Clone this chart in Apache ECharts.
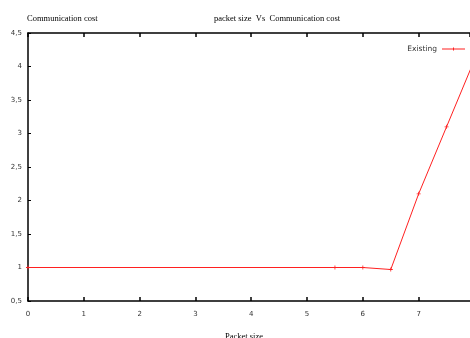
<!DOCTYPE html>
<html>
<head>
<meta charset="utf-8">
<script src="https://cdn.jsdelivr.net/npm/echarts@6/dist/echarts.min.js"></script>
<style>html,body{margin:0;padding:0;background:#fff}#c{width:470px;height:338px}</style>
</head>
<body>
<div id="c"></div>
<script>
const packetSize = [0, 5.5, 6, 6.5, 7, 7.5, 8];
const existing = [1, 1, 1, 0.97, 2.1, 3.1, 4.1];
const xTicks = [0, 1, 2, 3, 4, 5, 6, 7];
const yTicks = [0.5, 1, 1.5, 2, 2.5, 3, 3.5, 4, 4.5];

const plus = 'path://M0,2h5v1h-5z M2,0h1v5h-1z';
const chart = echarts.init(document.getElementById('c'), null, {renderer: 'canvas'});
const tickFont = {fontFamily: 'DejaVu Sans', fontSize: 7, color: '#333'};
const serif = {fontFamily: 'Liberation Serif', fontSize: 8.5, fontWeight: 'normal', color: '#000'};
chart.setOption({
  animation: false,
  backgroundColor: '#fff',
  title: [
    {text: 'packet size  Vs  Communication cost', left: 209, top: 9, textStyle: serif},
    {text: 'Communication cost', left: 22, top: 9, textStyle: serif},
    {text: 'Packet size', left: 220, top: 327, textStyle: serif}
  ],
  legend: {
    right: 0, top: 40, align: 'right', itemWidth: 23, itemHeight: 6, itemGap: 5,
    textStyle: {fontFamily: 'DejaVu Sans', fontSize: 7.5, color: '#333'},
    data: [{name: 'Existing', icon: 'path://M0,2h23v1h-23z M11,1h1v3h-1z'}]
  },
  grid: {left: 28, top: 33, right: 0, height: 268},
  xAxis: [
    {type: 'value', min: 0, max: 7.92, interval: 1, position: 'bottom',
     axisLine: {show: true, lineStyle: {color: '#000', width: 1.5}},
     axisTick: {show: true, inside: true, length: 4, lineStyle: {color: '#000', width: 1.5}},
     axisLabel: Object.assign({margin: 10, showMaxLabel: false, formatter: v => xTicks.includes(v) ? String(v) : ''}, tickFont),
     splitLine: {show: false}},
    {type: 'value', min: 0, max: 7.92, interval: 1, position: 'top',
     axisLine: {show: true, lineStyle: {color: '#000', width: 1.5}},
     axisTick: {show: true, inside: true, length: 4, lineStyle: {color: '#000', width: 1.5}},
     axisLabel: {show: false}, splitLine: {show: false}}
  ],
  yAxis: {
    type: 'value', min: 0.5, max: 4.5, interval: 0.5,
    axisLine: {show: true, lineStyle: {color: '#000', width: 1.5}},
    axisTick: {show: true, inside: true, length: 3, lineStyle: {color: '#000', width: 1}},
    axisLabel: Object.assign({margin: 6, formatter: v => yTicks.includes(v) ? String(v).replace('.', ',') : ''}, tickFont),
    splitLine: {show: false}
  },
  series: [{
    name: 'Existing', type: 'line',
    data: packetSize.map((x, i) => [x, existing[i]]),
    symbol: plus, symbolSize: 4, showAllSymbol: true,
    lineStyle: {color: '#ff2020', width: 1},
    itemStyle: {color: '#ff2020'},
    clip: true
  }]
});
</script>
</body>
</html>
